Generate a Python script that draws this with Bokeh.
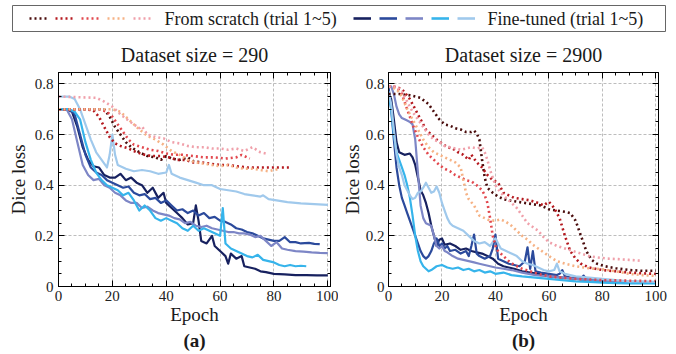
from bokeh.plotting import figure
from bokeh.models import (Range1d, LinearAxis, SingleIntervalTicker, Legend, LegendItem,
                          Label, Title, CustomJSTickFormatter)
from bokeh.layouts import column, row
from bokeh.embed import file_html
from bokeh.resources import INLINE
from bokeh.core.properties import value

FONT = "Liberation Serif"

# ---------------- data: (epoch, dice loss) ----------------
# Dataset size = 290, from scratch
a_fs1 = [(0,0.70),(10,0.70),(17,0.70),(19,0.67),(21,0.63),(23,0.60),(25,0.57),(27,0.55),(30,0.53),(33,0.515),(36,0.51),(38,0.50),(40,0.515),(42,0.505),(45,0.50),(48,0.51),(50,0.495),(53,0.49)]
a_fs2 = [(0,0.70),(10,0.70),(13,0.695),(15,0.67),(17,0.63),(19,0.59),(21,0.565),(23,0.555),(26,0.545),(29,0.53),(32,0.52),(35,0.515),(38,0.515),(41,0.51),(44,0.50),(47,0.50),(50,0.49),(53,0.49),(56,0.485),(60,0.48),(63,0.48),(66,0.475),(70,0.47),(74,0.47),(78,0.47),(82,0.47),(86,0.47)]
a_fs3 = [(0,0.70),(15,0.70),(18,0.69),(20,0.67),(22,0.64),(24,0.61),(26,0.58),(28,0.56),(31,0.55),(34,0.54),(37,0.535),(40,0.525),(43,0.52),(46,0.52),(50,0.515),(54,0.51),(58,0.51),(62,0.505),(66,0.51),(68,0.52),(71,0.505)]
a_fs4 = [(0,0.70),(20,0.70),(23,0.69),(26,0.66),(28,0.64),(30,0.62),(33,0.595),(36,0.58),(39,0.56),(42,0.535),(45,0.52),(48,0.50),(51,0.49),(54,0.485),(57,0.48),(60,0.475),(63,0.48),(66,0.47),(69,0.465),(72,0.465),(75,0.46),(78,0.455),(80,0.46),(82,0.465)]
a_fs5 = [(0,0.75),(14,0.745),(17,0.73),(20,0.71),(23,0.68),(26,0.655),(28,0.64),(30,0.625),(31,0.632),(33,0.60),(36,0.59),(39,0.585),(42,0.57),(45,0.565),(48,0.555),(51,0.55),(54,0.55),(57,0.545),(60,0.545),(63,0.54),(66,0.545),(69,0.535),(72,0.55),(75,0.53),(77,0.525)]
# Dataset size = 290, fine-tuned
a_ft1 = [(0,0.70),(3,0.70),(5,0.69),(7,0.63),(9,0.55),(11,0.50),(13,0.475),(15,0.47),(17,0.44),(19,0.43),(21,0.43),(23,0.445),(25,0.42),(27,0.43),(29,0.41),(31,0.40),(33,0.37),(35,0.39),(37,0.35),(39,0.37),(40,0.33),(42,0.31),(44,0.29),(46,0.27),(48,0.245),(50,0.25),(51,0.32),(52,0.26),(53,0.18),(55,0.17),(57,0.20),(58,0.16),(60,0.14),(62,0.12),(63,0.09),(64,0.13),(66,0.11),(68,0.12),(69,0.08),(71,0.075),(73,0.07),(75,0.06),(77,0.057),(80,0.05),(84,0.048),(88,0.045),(92,0.045),(96,0.044),(100,0.044)]
a_ft2 = [(0,0.70),(4,0.70),(6,0.68),(8,0.60),(10,0.52),(12,0.47),(14,0.45),(16,0.44),(18,0.42),(20,0.41),(22,0.40),(24,0.39),(26,0.395),(28,0.37),(30,0.36),(32,0.365),(34,0.345),(36,0.35),(38,0.33),(40,0.34),(42,0.32),(44,0.30),(46,0.305),(48,0.29),(50,0.30),(52,0.28),(54,0.29),(56,0.27),(58,0.275),(60,0.26),(62,0.255),(64,0.245),(66,0.23),(68,0.225),(70,0.215),(72,0.21),(74,0.20),(76,0.19),(78,0.185),(80,0.18),(82,0.18),(84,0.195),(86,0.175),(88,0.175),(90,0.17),(93,0.172),(95,0.168),(97,0.167)]
a_ft3 = [(0,0.70),(3,0.70),(5,0.66),(7,0.57),(9,0.48),(11,0.44),(13,0.42),(15,0.425),(17,0.40),(19,0.39),(21,0.37),(23,0.36),(25,0.34),(27,0.33),(29,0.33),(31,0.31),(33,0.315),(35,0.30),(37,0.29),(39,0.285),(41,0.28),(43,0.27),(45,0.265),(47,0.25),(49,0.255),(51,0.24),(53,0.235),(55,0.24),(57,0.23),(59,0.225),(61,0.22),(63,0.215),(65,0.215),(67,0.21),(69,0.21),(71,0.205),(73,0.195),(75,0.20),(77,0.18),(79,0.16),(81,0.175),(83,0.15),(85,0.145),(88,0.14),(91,0.138),(94,0.135),(97,0.133),(100,0.132)]
a_ft4 = [(0,0.70),(4,0.70),(6,0.69),(8,0.66),(10,0.57),(12,0.50),(14,0.45),(16,0.42),(18,0.40),(20,0.39),(22,0.38),(24,0.36),(26,0.37),(28,0.34),(30,0.30),(32,0.32),(34,0.30),(36,0.27),(38,0.26),(40,0.27),(42,0.26),(44,0.25),(46,0.23),(48,0.22),(50,0.24),(52,0.22),(54,0.23),(56,0.22),(58,0.21),(60,0.20),(61,0.31),(62,0.17),(64,0.15),(66,0.14),(68,0.13),(70,0.12),(72,0.115),(74,0.125),(76,0.105),(78,0.10),(80,0.095),(82,0.085),(84,0.08),(86,0.085),(88,0.08),(90,0.082),(92,0.08)]
a_ft5 = [(0,0.75),(4,0.75),(6,0.74),(8,0.70),(10,0.64),(12,0.58),(14,0.53),(16,0.50),(18,0.47),(19,0.52),(20,0.60),(21,0.52),(22,0.48),(25,0.465),(28,0.455),(31,0.46),(34,0.455),(37,0.445),(40,0.45),(41,0.48),(42,0.445),(45,0.43),(48,0.42),(51,0.41),(54,0.40),(57,0.40),(60,0.385),(63,0.38),(66,0.375),(69,0.365),(72,0.36),(75,0.355),(76,0.36),(78,0.345),(81,0.34),(85,0.333),(90,0.328),(95,0.325),(100,0.322)]

# Dataset size = 2900, from scratch
b_fs1 = [(0,0.76),(4,0.76),(8,0.755),(12,0.745),(15,0.72),(17,0.69),(19,0.66),(21,0.64),(23,0.635),(25,0.625),(27,0.62),(29,0.61),(31,0.61),(32,0.615),(33,0.605),(34,0.58),(35,0.50),(36,0.43),(37,0.39),(39,0.37),(41,0.355),(43,0.345),(45,0.34),(48,0.335),(51,0.33),(54,0.325),(57,0.32),(60,0.305),(63,0.30),(66,0.295),(68,0.29),(70,0.26),(72,0.20),(74,0.14),(76,0.105),(78,0.09),(81,0.08),(85,0.072),(90,0.065),(95,0.062),(100,0.062)]
b_fs2 = [(0,0.79),(2,0.79),(5,0.78),(8,0.74),(10,0.70),(12,0.66),(14,0.62),(16,0.60),(18,0.58),(20,0.565),(22,0.55),(24,0.545),(26,0.53),(28,0.52),(30,0.50),(31,0.52),(33,0.49),(35,0.47),(37,0.44),(39,0.42),(41,0.41),(43,0.37),(45,0.36),(47,0.35),(50,0.345),(53,0.34),(56,0.33),(58,0.32),(60,0.335),(62,0.31),(64,0.27),(66,0.20),(68,0.14),(70,0.11),(72,0.09),(75,0.075),(80,0.065),(85,0.06),(90,0.055),(95,0.052),(100,0.05)]
b_fs3 = [(0,0.79),(3,0.785),(5,0.76),(7,0.70),(9,0.64),(11,0.59),(13,0.55),(15,0.52),(17,0.50),(19,0.48),(21,0.465),(23,0.455),(25,0.44),(27,0.43),(29,0.42),(31,0.415),(33,0.40),(35,0.38),(36,0.36),(37,0.33),(38,0.27),(39,0.20),(40,0.16),(41,0.14),(43,0.12),(45,0.10),(47,0.085),(50,0.07),(53,0.06),(56,0.05),(60,0.04),(65,0.035),(70,0.03),(75,0.028),(80,0.025),(85,0.024),(90,0.023),(95,0.022),(100,0.022)]
b_fs4 = [(0,0.79),(3,0.78),(5,0.75),(7,0.70),(9,0.66),(11,0.62),(13,0.58),(15,0.55),(17,0.53),(19,0.52),(21,0.51),(23,0.50),(25,0.49),(27,0.47),(28,0.42),(29,0.37),(30,0.345),(32,0.32),(34,0.28),(36,0.27),(38,0.26),(40,0.26),(42,0.265),(44,0.255),(46,0.24),(48,0.22),(50,0.20),(52,0.185),(54,0.165),(56,0.15),(58,0.135),(60,0.12),(63,0.10),(66,0.09),(70,0.08),(75,0.072),(80,0.068),(85,0.06),(90,0.05),(95,0.045),(100,0.042)]
b_fs5 = [(0,0.79),(3,0.79),(5,0.77),(7,0.73),(9,0.69),(11,0.66),(13,0.63),(15,0.60),(17,0.58),(19,0.57),(21,0.555),(23,0.55),(25,0.545),(27,0.54),(29,0.545),(31,0.55),(33,0.545),(35,0.55),(36,0.53),(37,0.50),(38,0.46),(39,0.43),(40,0.40),(42,0.37),(44,0.35),(46,0.33),(48,0.31),(50,0.28),(52,0.25),(54,0.235),(56,0.22),(58,0.195),(60,0.175),(63,0.16),(66,0.15),(69,0.14),(72,0.13),(75,0.12),(78,0.115),(82,0.11),(86,0.108),(90,0.105),(94,0.102)]
# Dataset size = 2900, fine-tuned
b_ft1 = [(0,0.76),(1,0.74),(2,0.66),(3,0.57),(4,0.53),(6,0.52),(8,0.525),(9,0.51),(10,0.48),(11,0.43),(12,0.38),(13,0.36),(14,0.33),(15,0.29),(16,0.24),(17,0.20),(18,0.16),(19,0.185),(20,0.19),(21,0.165),(23,0.17),(25,0.16),(27,0.145),(29,0.15),(31,0.14),(33,0.135),(35,0.13),(37,0.12),(39,0.11),(41,0.09),(43,0.08),(45,0.075),(47,0.07),(50,0.06),(53,0.055),(56,0.05),(60,0.04),(65,0.035),(70,0.03),(75,0.025),(80,0.02),(85,0.018),(90,0.016),(95,0.015),(100,0.015)]
b_ft2 = [(0,0.79),(1,0.70),(2,0.58),(3,0.47),(4,0.40),(5,0.35),(6,0.32),(7,0.29),(8,0.26),(9,0.23),(10,0.20),(11,0.17),(12,0.14),(13,0.12),(14,0.11),(15,0.12),(16,0.14),(17,0.17),(18,0.19),(19,0.16),(20,0.17),(21,0.15),(22,0.16),(23,0.14),(25,0.145),(27,0.13),(29,0.14),(30,0.12),(31,0.16),(32,0.205),(33,0.13),(34,0.12),(36,0.11),(38,0.12),(39,0.15),(40,0.205),(41,0.11),(43,0.10),(45,0.09),(47,0.085),(49,0.08),(51,0.10),(52,0.155),(53,0.07),(54,0.14),(55,0.06),(57,0.055),(60,0.05),(63,0.045),(64,0.05),(65,0.065),(66,0.04),(68,0.035),(70,0.033),(72,0.032),(73,0.043),(74,0.03),(77,0.025),(80,0.022),(85,0.02),(90,0.018),(95,0.017),(100,0.016)]
b_ft3 = [(0,0.79),(1,0.79),(2,0.76),(3,0.71),(4,0.68),(5,0.665),(6,0.66),(7,0.655),(8,0.65),(9,0.64),(10,0.58),(11,0.45),(12,0.32),(13,0.27),(14,0.25),(15,0.245),(16,0.24),(17,0.20),(18,0.16),(19,0.15),(20,0.16),(21,0.14),(22,0.135),(24,0.12),(26,0.11),(28,0.105),(30,0.10),(32,0.095),(34,0.09),(36,0.085),(38,0.08),(40,0.075),(43,0.07),(46,0.065),(50,0.055),(55,0.045),(60,0.04),(65,0.035),(70,0.03),(75,0.025),(80,0.022),(85,0.02),(90,0.018),(95,0.017),(100,0.016)]
b_ft4 = [(0,0.77),(1,0.70),(2,0.60),(3,0.53),(4,0.50),(5,0.47),(6,0.44),(7,0.40),(8,0.35),(9,0.28),(10,0.20),(11,0.14),(12,0.10),(13,0.08),(14,0.07),(15,0.06),(16,0.065),(18,0.08),(20,0.085),(22,0.075),(24,0.07),(26,0.075),(28,0.065),(30,0.07),(32,0.06),(34,0.065),(36,0.055),(38,0.06),(40,0.05),(43,0.055),(46,0.045),(50,0.04),(55,0.035),(60,0.03),(65,0.025),(70,0.02),(75,0.018),(80,0.015),(85,0.013),(90,0.012),(95,0.012),(100,0.012)]
b_ft5 = [(0,0.77),(1,0.72),(2,0.62),(3,0.52),(4,0.47),(5,0.44),(6,0.40),(7,0.38),(8,0.36),(9,0.345),(10,0.35),(11,0.37),(12,0.375),(13,0.39),(14,0.41),(15,0.39),(16,0.37),(17,0.375),(18,0.395),(19,0.37),(20,0.33),(21,0.30),(22,0.27),(23,0.25),(24,0.24),(26,0.23),(28,0.22),(30,0.20),(32,0.18),(34,0.17),(36,0.175),(38,0.16),(40,0.19),(42,0.15),(44,0.14),(46,0.13),(48,0.12),(50,0.10),(52,0.09),(54,0.085),(56,0.075),(58,0.065),(60,0.06),(62,0.065),(63,0.09),(64,0.06),(66,0.05),(70,0.04),(75,0.035),(80,0.03),(85,0.025),(90,0.02),(95,0.02),(100,0.018)]

scratch_label = "From scratch (trial 1~5)"
fine_label = "Fine-tuned (trial 1~5)"
titles = ["Dataset size = 290", "Dataset size = 2900"]
tags = ["(a)", "(b)"]

scratch_colors = ["#4a0c0c", "#b5191f", "#e2484e", "#f6b285", "#f0a0aa"]
fine_colors = ["#17215f", "#2b4a9c", "#7d86c6", "#36b4eb", "#a0c9ec"]
DOT = "2 3"
FRAME_W = 272


def unzip(pairs):
    return [p[0] for p in pairs], [p[1] for p in pairs]


def make_panel(title, tag, scratch, fine, left_border, right_border, tick_standoff, ylab_standoff):
    p = figure(width=left_border + FRAME_W + right_border, height=318,
               output_backend="svg", toolbar_location=None,
               x_range=Range1d(0, 101), y_range=Range1d(0, 0.845),
               min_border_left=left_border, min_border_right=right_border,
               min_border_top=38, min_border_bottom=66,
               x_axis_label="Epoch", y_axis_label="Dice loss")
    p.background_fill_color = "white"
    p.outline_line_color = "black"
    p.outline_line_width = 1
    p.title.text = title
    p.title.align = "center"
    p.title.text_font = FONT
    p.title.text_font_size = "20px"
    p.title.text_font_style = "normal"
    p.title.text_color = "#1a1a1a"
    p.title.standoff = 13

    xt = SingleIntervalTicker(interval=20, num_minor_ticks=4)
    yt = SingleIntervalTicker(interval=0.2, num_minor_ticks=4)
    p.xaxis.ticker = xt
    p.yaxis.ticker = yt
    p.yaxis.formatter = CustomJSTickFormatter(code="return Math.abs(tick) < 1e-9 ? '0' : tick.toFixed(1);")
    for ax in (p.xaxis[0], p.yaxis[0]):
        ax.major_tick_in = 6
        ax.major_tick_out = 0
        ax.minor_tick_in = 3
        ax.minor_tick_out = 0
        ax.axis_line_color = "black"
        ax.major_tick_line_color = "black"
        ax.minor_tick_line_color = "black"
        ax.major_label_text_font = FONT
        ax.major_label_text_font_size = "15px"
        ax.major_label_text_color = "#222222"
        ax.axis_label_text_font = FONT
        ax.axis_label_text_font_size = "19px"
        ax.axis_label_text_font_style = "normal"
        ax.axis_label_text_color = "#1a1a1a"
    p.xaxis.major_label_standoff = 4
    p.xaxis.axis_label_standoff = 0
    p.yaxis.major_label_standoff = tick_standoff
    p.yaxis.axis_label_standoff = ylab_standoff

    for loc, tk in (("right", yt), ("above", xt)):
        ax = LinearAxis(ticker=tk, formatter=CustomJSTickFormatter(code="return '';"),
                        major_tick_in=6, major_tick_out=0, minor_tick_in=3, minor_tick_out=0,
                        major_label_standoff=0, axis_line_color="black")
        p.add_layout(ax, loc)

    p.grid.grid_line_color = "#bdbdbd"
    p.grid.grid_line_dash = "3 2"
    p.grid.grid_line_width = 1

    for series, c in zip(fine, fine_colors):
        x, y = unzip(series)
        p.line(x, y, line_color=c, line_width=2.2, line_join="round")
    for series, c in zip(scratch, scratch_colors):
        x, y = unzip(series)
        p.line(x, y, line_color=c, line_width=2.6, line_dash=DOT)

    p.add_layout(Title(text=tag, align="center", text_font=FONT, text_font_size="19px",
                       text_font_style="bold", text_color="#1a1a1a", standoff=0), "below")
    return p


p1 = make_panel(titles[0], tags[0], [a_fs1, a_fs2, a_fs3, a_fs4, a_fs5],
                [a_ft1, a_ft2, a_ft3, a_ft4, a_ft5], 58, 8, 5, 3)
p2 = make_panel(titles[1], tags[1], [b_fs1, b_fs2, b_fs3, b_fs4, b_fs5],
                [b_ft1, b_ft2, b_ft3, b_ft4, b_ft5], 48, 12, 4, 0)

# ---------------- legend strip ----------------
leg = figure(width=670, height=34, output_backend="svg", toolbar_location=None,
             x_range=Range1d(0, 1), y_range=Range1d(0, 1),
             x_axis_type=None, y_axis_type=None,
             min_border_left=12, min_border_right=5, min_border_top=5, min_border_bottom=3)
leg.grid.visible = False
leg.outline_line_color = "#666666"
leg.outline_line_width = 1

s_items = []
for series, c in zip([a_fs1, a_fs2, a_fs3, a_fs4, a_fs5], scratch_colors):
    x, y = unzip(series)
    r = leg.line(x, y, line_color=c, line_width=2.6, line_dash=DOT, visible=False)
    s_items.append(LegendItem(label=value(""), renderers=[r]))
f_items = []
for series, c in zip([a_ft1, a_ft2, a_ft3, a_ft4, a_ft5], fine_colors):
    x, y = unzip(series)
    r = leg.line(x, y, line_color=c, line_width=2.6, visible=False)
    f_items.append(LegendItem(label=value(""), renderers=[r]))

for items, xloc in ((s_items, 17), (f_items, 341)):
    lg = Legend(items=items, location=(xloc, 3), orientation="horizontal",
                glyph_width=18, glyph_height=20, label_width=0, label_standoff=0,
                spacing=8, padding=0, margin=0, border_line_color=None,
                background_fill_alpha=0, label_text_font_size="10px")
    leg.add_layout(lg)

for txt, xloc in ((scratch_label, 152), (fine_label, 475)):
    leg.add_layout(Label(x=xloc, y=13, x_units="screen", y_units="screen", text=txt,
                         text_font=FONT, text_font_size="18px", text_baseline="middle",
                         text_color="#1a1a1a"))

layout = column(leg, row(p1, p2, spacing=0), spacing=0)
open("out.html", "w").write(file_html(layout, INLINE))
